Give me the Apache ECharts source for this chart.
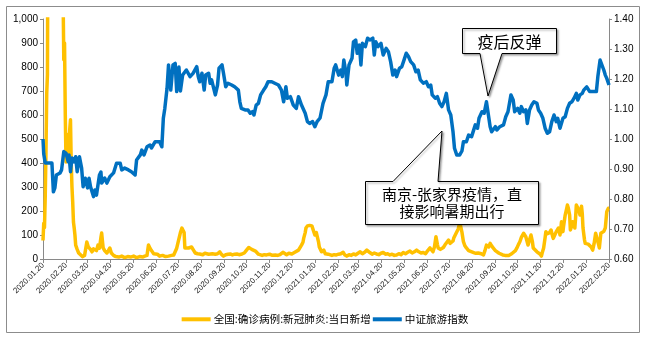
<!DOCTYPE html>
<html>
<head>
<meta charset="utf-8">
<script src="https://cdn.jsdelivr.net/npm/echarts@6/dist/echarts.min.js"></script>
<style>
  html, body { margin: 0; padding: 0; background: #fff; }
  #chart { width: 650px; height: 343px; }
</style>
</head>
<body>
<div id="chart"></div>
<script>
// Calendar span of the horizontal axis (daily), ticks on the 20th of each month
const startDate = '2020-01-20';
const endDate = '2022-02-20';

// Series names
const caseName = '全国:确诊病例:新冠肺炎:当日新增';
const indexName = '中证旅游指数';

// 中证旅游指数 (normalised), sampled by days since 2020-01-20
const tourismDay = [0,1,3,12,14,16,18,23,25,28,31,34,35,37,39,42,44,46,49,52,54,57,60,62,64,68,70,72,76,78,79,83,86,90,95,99,104,106,110,115,119,124,126,131,133,136,140,144,146,151,157,160,162,164,167,169,171,172,175,178,180,183,185,188,190,193,198,202,207,209,211,214,217,219,223,225,227,232,235,237,241,243,246,249,254,258,263,265,267,272,276,279,282,284,287,290,293,297,300,303,308,312,317,321,324,327,329,333,337,341,344,346,348,353,356,359,363,366,369,373,377,381,384,389,392,394,398,401,403,405,408,409,412,416,418,421,423,426,428,430,434,437,440,444,446,448,451,455,458,462,465,468,471,474,476,480,483,486,489,492,495,499,502,505,508,512,516,519,522,524,528,531,534,537,540,543,546,549,552,554,557,561,564,566,570,573,577,582,585,587,591,594,597,599,602,604,609,611,615,620,623,626,630,633,635,639,642,644,647,650,652,655,658,661,665,667,670,673,676,679,682,685,688,691,693,696,700,703,706,709,712,715,718,720,723,726,728,732,734,736,741,745,747,750,752,755,757,759,762];
const tourismIndex = [1.000,0.950,0.920,0.920,0.824,0.837,0.880,0.887,0.897,0.958,0.953,0.924,0.947,0.891,0.937,0.924,0.941,0.891,0.941,0.903,0.841,0.869,0.837,0.869,0.841,0.808,0.830,0.813,0.880,0.890,0.853,0.870,0.853,0.874,0.887,0.919,0.919,0.897,0.903,0.897,0.891,0.880,0.930,0.947,0.963,0.947,0.974,0.980,0.970,0.991,0.991,0.974,1.069,1.102,1.169,1.247,1.247,1.163,1.247,1.252,1.158,1.240,1.160,1.213,1.220,1.230,1.208,1.219,1.241,1.208,1.191,1.219,1.163,1.213,1.219,1.186,1.197,1.147,1.180,1.236,1.247,1.219,1.174,1.186,1.180,1.174,1.163,1.124,1.102,1.097,1.097,1.086,1.091,1.080,1.113,1.119,1.147,1.163,1.174,1.191,1.191,1.186,1.180,1.163,1.124,1.174,1.136,1.141,1.113,1.102,1.141,1.141,1.113,1.086,1.058,1.052,1.058,1.041,1.058,1.070,1.119,1.147,1.191,1.191,1.236,1.247,1.213,1.230,1.208,1.263,1.219,1.180,1.247,1.269,1.324,1.330,1.286,1.313,1.247,1.319,1.308,1.336,1.330,1.336,1.280,1.324,1.308,1.319,1.280,1.302,1.291,1.258,1.213,1.230,1.208,1.236,1.241,1.263,1.286,1.275,1.258,1.247,1.224,1.230,1.197,1.186,1.191,1.174,1.180,1.147,1.136,1.141,1.119,1.108,1.124,1.152,1.097,1.080,1.024,0.969,0.947,0.947,0.960,0.991,0.991,1.013,1.008,1.047,1.036,1.069,1.091,1.086,1.124,1.119,1.041,1.024,1.041,1.030,1.041,1.047,1.074,1.091,1.147,1.130,1.091,1.102,1.086,1.108,1.091,1.097,1.052,1.097,1.113,1.124,1.119,1.097,1.086,1.069,1.036,1.019,1.024,1.058,1.080,1.058,1.069,1.036,1.069,1.074,1.102,1.119,1.124,1.136,1.152,1.130,1.147,1.152,1.163,1.174,1.180,1.158,1.158,1.158,1.208,1.263,1.263,1.230,1.213,1.202,1.180];

// 全国新增确诊病例, sampled by days since 2020-01-20
const caseDay = [0,1,2,3,4,5,6,7,9,12,15,18,21,23,24,25,26,27,28,29,30,31,32,33,34,35,36,37,38,39,40,41,42,43,44,46,48,50,53,56,59,61,62,64,66,68,70,72,74,76,78,79,80,81,83,86,88,90,92,95,98,102,106,110,114,118,122,126,130,134,137,140,142,144,146,149,151,154,157,161,165,169,173,176,178,180,182,185,187,189,190,191,193,196,198,200,203,205,208,211,215,218,220,223,225,228,229,232,235,238,240,243,246,249,252,255,258,261,264,268,271,274,277,279,281,283,286,288,290,292,295,298,301,305,308,310,313,316,319,321,323,325,328,331,335,337,339,341,344,346,348,350,351,353,354,356,357,359,360,362,364,366,368,369,371,372,374,375,378,380,382,384,386,389,392,395,398,401,404,406,409,412,415,418,421,424,427,430,433,436,438,440,443,446,449,452,455,458,461,464,467,470,473,476,479,482,485,488,491,494,497,500,503,506,509,512,515,518,521,523,525,527,529,531,532,535,537,539,541,543,546,548,550,552,553,555,557,559,561,562,564,566,568,570,573,575,579,582,584,586,588,590,593,595,597,600,602,604,606,609,611,614,616,619,622,624,627,629,631,633,636,638,640,642,644,647,649,650,652,653,655,657,659,660,662,665,667,669,671,672,674,676,677,679,680,682,684,686,687,689,691,692,694,696,697,698,700,701,703,705,706,707,709,710,712,713,715,716,717,718,720,722,723,724,725,726,727,729,730,732,734,736,738,740,742,744,745,746,748,749,751,753,755,757,759,761,762];
const newCases = [77,149,131,259,444,688,769,1771,1737,2590,3887,3385,2467,15152,5090,2641,2009,1100,830,900,600,404,520,450,480,420,540,580,400,300,237,154,129,100,58,40,25,20,10,15,71,50,58,40,30,42,46,35,58,45,90,108,75,46,35,25,35,46,25,15,10,8,12,6,10,8,12,6,10,8,12,15,58,45,35,22,17,20,12,15,10,12,15,17,25,45,71,110,129,132,110,46,40,46,42,50,35,25,22,21,18,24,21,20,27,22,17,20,22,30,20,12,18,20,21,17,20,21,18,21,25,37,48,51,40,46,33,27,20,17,15,18,17,20,16,20,17,15,18,22,28,20,18,24,21,25,28,24,37,45,58,70,87,110,129,138,142,140,144,138,135,100,110,96,70,50,46,30,37,22,17,20,21,15,18,17,20,22,28,18,12,18,15,21,17,24,30,22,28,37,30,27,20,25,21,18,24,27,20,22,17,20,15,17,22,18,27,22,28,33,25,30,37,30,25,27,22,35,46,38,30,50,93,60,46,40,37,48,58,65,79,65,58,75,87,100,108,125,150,140,112,72,55,46,35,30,28,24,21,25,28,22,17,35,58,50,65,55,46,35,30,24,21,17,15,12,15,17,22,28,35,46,60,72,90,107,100,93,70,58,80,100,70,46,38,30,25,21,12,25,46,90,114,105,100,110,121,95,86,100,114,120,129,100,120,155,114,140,183,210,225,215,183,121,140,155,140,129,170,225,212,195,183,200,220,190,129,80,65,58,62,65,50,37,65,107,100,100,60,46,107,100,115,129,197,211,211];

// Left axis ticks (cases) and right axis ticks (index)
const caseAxisMin = 0, caseAxisMax = 1000, caseAxisStep = 100;
const indexAxisMin = 0.6, indexAxisMax = 1.4, indexAxisStep = 0.1;

// Callout texts
const reboundNote = '疫后反弹';
const outbreakNote = '南京-张家界疫情，直\n接影响暑期出行';

// ---- build the daily category axis ----
function buildDays(a, b) {
  const out = [];
  const d = new Date(a + 'T00:00:00Z');
  const end = new Date(b + 'T00:00:00Z');
  while (d <= end) {
    const y = d.getUTCFullYear();
    const m = String(d.getUTCMonth() + 1).padStart(2, '0');
    const day = String(d.getUTCDate()).padStart(2, '0');
    out.push(y + '.' + m + '.' + day);
    d.setUTCDate(d.getUTCDate() + 1);
  }
  return out;
}
const days = buildDays(startDate, endDate);
const onTwentieth = (i, v) => String(v).slice(-3) === '.20';

const tourismData = tourismDay.map((d, i) => [d, tourismIndex[i]]);
const caseData = caseDay.map((d, i) => [d, newCases[i]]);

const YELLOW = '#FFC000';
const BLUE = '#0070C0';
const AXIS = '#898989';
const FONT = "'Liberation Sans', 'Noto Sans CJK SC', sans-serif";
const CJK = "'Noto Sans CJK SC', sans-serif";

const chart = echarts.init(document.getElementById('chart'), null, { renderer: 'canvas' });

const callout = (points) => ({
  type: 'polygon',
  z: 100,
  shape: { points: points },
  style: {
    fill: '#fff', stroke: '#000', lineWidth: 1,
    shadowBlur: 2, shadowOffsetX: 1.5, shadowOffsetY: 1.5, shadowColor: 'rgba(0,0,0,0.35)'
  }
});

chart.setOption({
  animation: false,
  backgroundColor: '#fff',
  textStyle: { fontFamily: FONT },
  grid: { left: 43, right: 41, top: 19, bottom: 84, containLabel: false },
  legend: {
    data: [caseName, indexName],
    left: 'center',
    top: 309,
    icon: 'rect',
    itemWidth: 29,
    itemHeight: 4,
    itemGap: 2,
    textStyle: { fontSize: 10.6, color: '#000', fontFamily: CJK, padding: [0, 0, 0, -2] }
  },
  xAxis: {
    type: 'category',
    data: days,
    boundaryGap: false,
    axisLine: { lineStyle: { color: AXIS, width: 1 } },
    axisTick: { interval: onTwentieth, length: 4, lineStyle: { color: AXIS } },
    axisLabel: {
      interval: onTwentieth,
      rotate: 45,
      fontSize: 8,
      color: '#1a1a1a',
      margin: 5
    },
    splitLine: { show: false }
  },
  yAxis: [
    {
      type: 'value',
      min: caseAxisMin, max: caseAxisMax, interval: caseAxisStep,
      axisLine: { show: true, lineStyle: { color: AXIS } },
      axisTick: { show: true, length: 3, lineStyle: { color: AXIS } },
      axisLabel: {
        fontSize: 10, color: '#000', margin: 5,
        formatter: v => v.toLocaleString('en-US')
      },
      splitLine: { show: false }
    },
    {
      type: 'value',
      position: 'right',
      min: indexAxisMin, max: indexAxisMax, interval: indexAxisStep,
      axisLine: { show: true, lineStyle: { color: AXIS } },
      axisTick: { show: true, length: 3, lineStyle: { color: AXIS } },
      axisLabel: {
        fontSize: 10, color: '#000', margin: 5,
        formatter: v => v.toFixed(2)
      },
      splitLine: { show: false }
    }
  ],
  series: [
    {
      name: caseName,
      type: 'line',
      yAxisIndex: 0,
      data: caseData,
      showSymbol: false,
      symbol: 'none',
      clip: true,
      lineStyle: { color: YELLOW, width: 3.5, join: 'round' },
      itemStyle: { color: YELLOW },
      z: 2
    },
    {
      name: indexName,
      type: 'line',
      yAxisIndex: 1,
      data: tourismData,
      showSymbol: false,
      symbol: 'none',
      clip: true,
      lineStyle: { color: BLUE, width: 3.5, join: 'round' },
      itemStyle: { color: BLUE },
      z: 3
    }
  ],
  graphic: [
    {
      type: 'rect',
      z: 0,
      silent: true,
      shape: { x: 6.5, y: 6.5, width: 633, height: 326 },
      style: { fill: 'none', stroke: '#8c8c8c', lineWidth: 1 }
    },
    callout([[462.5, 28.5], [556.5, 28.5], [556.5, 53.5], [502, 53.5], [488, 96], [480, 53.5], [462.5, 53.5]]),
    {
      type: 'text', z: 101, x: 509.5, y: 41.5,
      style: {
        text: reboundNote, fontSize: 16, fontFamily: CJK, fill: '#000',
        textAlign: 'center', textVerticalAlign: 'middle', align: 'center', verticalAlign: 'middle'
      }
    },
    callout([[365.5, 181.5], [393, 181.5], [442, 131], [438, 181.5], [538.5, 181.5], [538.5, 224.5], [365.5, 224.5]]),
    {
      type: 'text', z: 101, x: 452, y: 203,
      style: {
        text: outbreakNote, fontSize: 15, lineHeight: 17, fontFamily: CJK, fill: '#000',
        textAlign: 'center', textVerticalAlign: 'middle', align: 'center', verticalAlign: 'middle'
      }
    }
  ]
});
</script>
</body>
</html>
